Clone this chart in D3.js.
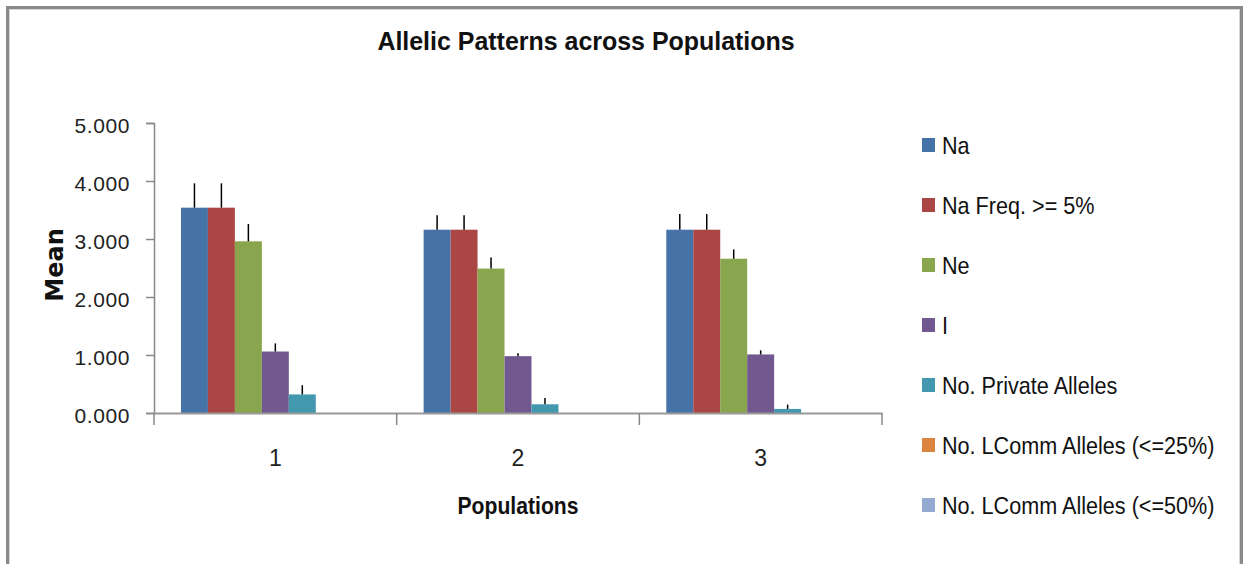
<!DOCTYPE html>
<html><head><meta charset="utf-8">
<script src="https://cdn.jsdelivr.net/npm/d3@7"></script>
<style>
html,body{margin:0;padding:0;background:#fff;}
svg{display:block;}
.cond{font-family:"Liberation Sans","Arial",sans-serif;}
</style></head>
<body>
<svg id="chart" width="1246" height="564"></svg>
<script>
const categories = ["1","2","3"];
const seriesNames = ["Na","Na Freq. >= 5%","Ne","I","No. Private Alleles","No. LComm Alleles (<=25%)","No. LComm Alleles (<=50%)"];
const seriesColors = ["#4572A7","#AA4643","#89A54E","#71588F","#4198AF","#DB843D","#93A9CF"];
const naValues      = [3.54, 3.16, 3.16];
const naFreqValues  = [3.54, 3.16, 3.16];
const neValues      = [2.96, 2.49, 2.66];
const iValues       = [1.06, 0.98, 1.01];
const privValues    = [0.32, 0.15, 0.07];
const lcomm25Values = [0, 0, 0];
const lcomm50Values = [0, 0, 0];
const naSE      = [0.42, 0.25, 0.27];
const naFreqSE  = [0.42, 0.25, 0.27];
const neSE      = [0.30, 0.19, 0.16];
const iSE       = [0.14, 0.05, 0.07];
const privSE    = [0.16, 0.11, 0.075];
const lcomm25SE = [0, 0, 0];
const lcomm50SE = [0, 0, 0];
const yTicks = [0,1,2,3,4,5];

const allValues = [naValues,naFreqValues,neValues,iValues,privValues,lcomm25Values,lcomm50Values];
const allSE = [naSE,naFreqSE,neSE,iSE,privSE,lcomm25SE,lcomm50SE];

const svg = d3.select("#chart");
// outer border
svg.append("path").attr("d","M7.5,570 L7.5,7.5 L1241.5,7.5 L1241.5,570")
  .attr("fill","none").attr("stroke","#8a8a8a").attr("stroke-width",3);
svg.append("path").attr("d","M9.5,570 L9.5,9.5 L1239.5,9.5 L1239.5,570")
  .attr("fill","none").attr("stroke","#d6d6d6").attr("stroke-width",1);

const plotLeft = 154, plotRight = 882, plotTop = 123, plotBottom = 413;
const x0 = d3.scaleBand().domain(categories).range([plotLeft,plotRight]).paddingInner(0).paddingOuter(0);
const x1 = d3.scaleBand().domain(d3.range(seriesNames.length)).range([0,x0.bandwidth()]).paddingOuter(1).paddingInner(0);
const y = d3.scaleLinear().domain([0,5]).range([plotBottom,plotTop]);

// bars
const groups = svg.append("g").selectAll("g").data(categories).join("g")
  .attr("transform",d=>`translate(${x0(d)},0)`);
groups.each(function(cat,ci){
  const g = d3.select(this);
  seriesNames.forEach((s,si)=>{
    const v = allValues[si][ci];
    if (v<=0) return;
    g.append("rect").attr("x",x1(si)).attr("width",x1.bandwidth())
      .attr("y",y(v)).attr("height",y(0)-y(v)).attr("fill",seriesColors[si]);
  });
});
// error bars
groups.each(function(cat,ci){
  const g = d3.select(this);
  seriesNames.forEach((s,si)=>{
    const v = allValues[si][ci], e = allSE[si][ci];
    if (v<=0) return;
    const cx = x1(si)+x1.bandwidth()/2;
    g.append("line").attr("x1",cx).attr("x2",cx).attr("y1",y(v)).attr("y2",y(v+e))
      .attr("stroke","#000").attr("stroke-width",1.5);
  });
});

// y axis
const yAxis = svg.append("g").attr("transform",`translate(${plotLeft},0)`)
  .call(d3.axisLeft(y).tickValues(yTicks).tickFormat(d3.format(".3f")).tickSizeOuter(0).tickSize(8).tickPadding(16));
yAxis.select(".domain").attr("stroke","#888").attr("stroke-width",1.5);
yAxis.selectAll(".tick line").attr("stroke","#888").attr("stroke-width",1.5);
yAxis.selectAll("text").attr("class","cond").style("font-size","21px").style("letter-spacing","0.6px")
  .attr("dy","0.45em").attr("fill","#222");

// x axis
const xAxis = svg.append("g").attr("transform",`translate(0,${plotBottom})`)
  .call(d3.axisBottom(x0).tickSize(0).tickPadding(37));
xAxis.select(".domain").attr("stroke","#999").attr("stroke-width",2);
xAxis.selectAll("text").attr("class","cond").style("font-size","23px").attr("fill","#222");
const boundaries = [...categories.map(c=>x0(c)), plotRight];
svg.append("g").selectAll("line").data(boundaries).join("line")
  .attr("x1",d=>d).attr("x2",d=>d).attr("y1",plotBottom).attr("y2",plotBottom+12)
  .attr("stroke","#888").attr("stroke-width",1.5);

// titles
svg.append("text").attr("class","cond").attr("transform","translate(586,50) scale(0.96,1)").attr("text-anchor","middle")
  .style("font-size","26px").style("font-weight","bold").attr("fill","#111").text("Allelic Patterns across Populations");
svg.append("text").attr("class","cond").attr("transform","translate(518,514) scale(0.92,1)").attr("text-anchor","middle")
  .style("font-size","23px").style("font-weight","bold").attr("fill","#111").text("Populations");
svg.append("text").attr("transform","translate(63,265) rotate(-90)").attr("text-anchor","middle")
  .style("font-family","'DejaVu Sans',sans-serif").style("font-size","24px").style("font-weight","bold")
  .attr("fill","#111").text("Mean");

// legend
const legend = svg.append("g").selectAll("g").data(seriesNames).join("g")
  .attr("transform",(d,i)=>`translate(922,${145+i*60})`);
legend.append("rect").attr("x",0).attr("y",-7).attr("width",13).attr("height",14)
  .attr("fill",(d,i)=>seriesColors[i]);
legend.append("text").attr("class","cond").attr("transform","translate(20,0) scale(0.9,1)").attr("dy","0.36em")
  .style("font-size","24px").attr("fill","#111").text(d=>d);
</script>
</body></html>
